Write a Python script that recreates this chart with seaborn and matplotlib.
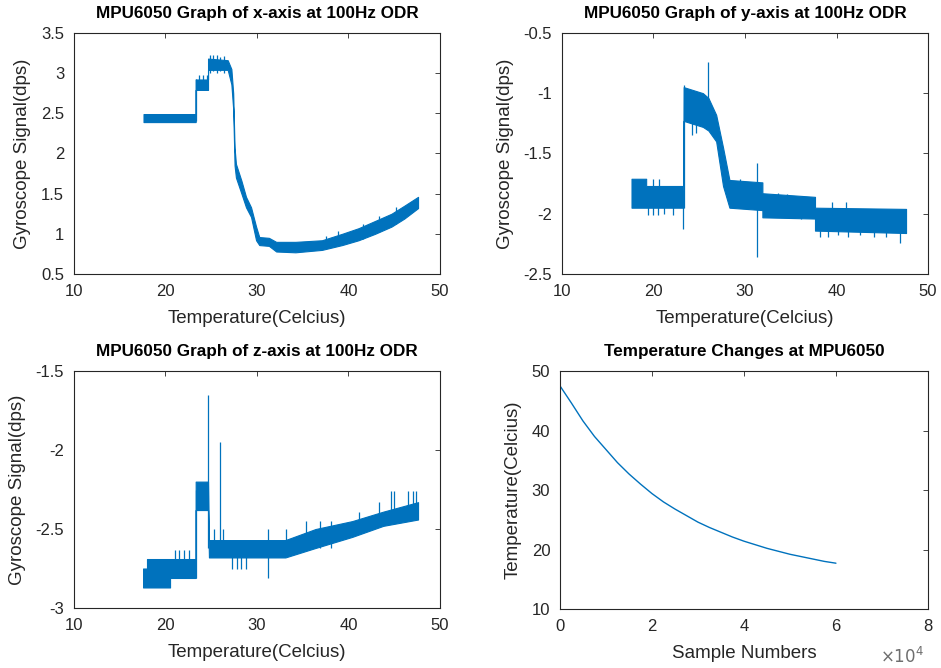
import numpy as np
import pandas as pd
import seaborn as sns
import matplotlib.pyplot as plt

# ---- data ----
# x-axis gyro: band (low / high envelope) over temperature
x_temp = [17.6, 23.3, 23.3, 24.65, 24.65, 26.8, 27.2, 27.4, 27.55, 27.7, 28.3, 28.8,
          29.35, 29.9, 30.25, 31.3, 32.1, 34.2, 37.1, 39.3, 41.1, 42.9, 44.7, 46.1, 47.6]
x_low = [2.39, 2.39, 2.79, 2.79, 3.04, 3.04, 2.86, 2.55, 1.85, 1.70, 1.50, 1.33,
         1.21, 0.92, 0.86, 0.85, 0.78, 0.77, 0.80, 0.86, 0.92, 1.00, 1.09, 1.19, 1.32]
x_high = [2.49, 2.49, 2.92, 2.92, 3.18, 3.16, 3.05, 2.75, 2.07, 1.87, 1.66, 1.46,
          1.33, 1.09, 0.96, 0.95, 0.90, 0.90, 0.92, 1.00, 1.07, 1.16, 1.25, 1.35, 1.46]
x_spike_t = [23.3, 23.7, 24.1, 24.5, 24.9, 25.2, 25.6, 26.0, 26.4, 37.5, 38.9, 41.6, 43.3, 45.2]
x_spike_lo = [2.40, 2.80, 2.80, 2.80, 3.00, 3.02, 3.00, 3.03, 3.00, 0.82, 0.86, 0.94, 1.02, 1.12]
x_spike_hi = [2.92, 2.98, 2.97, 2.98, 3.22, 3.23, 3.22, 3.20, 3.21, 0.97, 1.04, 1.12, 1.22, 1.33]

# y-axis gyro
y_temp = [17.6, 19.2, 19.2, 23.25, 23.3, 25.4, 26.0, 26.85, 27.6, 28.3, 31.9, 31.9, 37.65, 37.65, 47.6]
y_low = [-1.95, -1.95, -1.95, -1.95, -1.23, -1.28, -1.31, -1.40, -1.77, -1.95, -1.97, -2.03, -2.04, -2.14, -2.16]
y_high = [-1.71, -1.71, -1.77, -1.77, -0.95, -1.00, -1.04, -1.18, -1.45, -1.72, -1.74, -1.83, -1.86, -1.95, -1.96]
y_spike_t = [23.25, 23.3, 24.2, 24.6, 26.0, 31.3, 46.95, 19.4, 19.9, 20.5, 21.1, 22.1,
             20.0, 20.6, 29.5, 33.6, 34.6, 36.1, 38.2, 39.1, 40.2, 41.3, 42.6, 44.1, 45.4, 39.5, 41.0]
y_spike_lo = [-2.13, -1.95, -1.35, -1.33, -1.30, -2.36, -2.24, -2.01, -2.01, -2.01, -2.00, -2.01,
              -1.90, -1.90, -1.95, -2.02, -2.02, -2.04, -2.19, -2.19, -2.18, -2.19, -2.18, -2.19, -2.19, -2.10, -2.10]
y_spike_hi = [-1.80, -0.93, -1.10, -1.12, -0.74, -1.58, -2.05, -1.90, -1.90, -1.90, -1.90, -1.90,
              -1.71, -1.71, -1.71, -1.83, -1.84, -1.88, -2.05, -2.05, -2.05, -2.05, -2.05, -2.05, -2.05, -1.90, -1.90]

# z-axis gyro
z_temp = [17.55, 17.98, 17.98, 20.5, 20.5, 23.3, 23.3, 24.65, 24.75, 33.1, 36.4, 40.4, 43.8, 47.6]
z_low = [-2.87, -2.87, -2.87, -2.87, -2.81, -2.81, -2.38, -2.38, -2.68, -2.68, -2.62, -2.55, -2.48, -2.44]
z_high = [-2.75, -2.75, -2.69, -2.69, -2.69, -2.69, -2.20, -2.20, -2.57, -2.57, -2.50, -2.45, -2.39, -2.33]
z_spike_t = [23.3, 24.7, 26.0, 31.2, 21.0, 21.5, 22.0, 22.6, 27.3, 27.8, 28.3, 28.8,
             25.3, 26.3, 33.2, 35.4, 36.9, 38.1, 41.2, 43.3, 44.6, 45.0, 46.5, 47.0, 47.4]
z_spike_lo = [-2.81, -2.62, -2.62, -2.81, -2.70, -2.70, -2.70, -2.70, -2.75, -2.75, -2.75, -2.75,
              -2.62, -2.62, -2.62, -2.58, -2.62, -2.62, -2.50, -2.44, -2.40, -2.40, -2.40, -2.40, -2.40]
z_spike_hi = [-2.25, -1.65, -1.95, -2.50, -2.63, -2.63, -2.63, -2.63, -2.65, -2.65, -2.65, -2.65,
              -2.50, -2.50, -2.50, -2.45, -2.45, -2.45, -2.39, -2.33, -2.26, -2.26, -2.26, -2.26, -2.26]

# temperature over time
sample_numbers = [0, 2500, 5000, 7500, 10000, 12500, 15000, 17500, 20000, 22500, 25000, 27500,
                  30000, 32500, 35000, 37500, 40000, 42500, 45000, 47500, 50000, 52500,
                  55000, 57500, 60000]
temperature = [47.5, 44.6, 41.6, 39.0, 36.8, 34.6, 32.7, 31.0, 29.4, 28.0, 26.8, 25.7,
               24.6, 23.7, 22.9, 22.1, 21.4, 20.8, 20.2, 19.7, 19.2, 18.8,
               18.4, 18.0, 17.7]

titles = ["MPU6050 Graph of x-axis at 100Hz ODR",
          "MPU6050 Graph of y-axis at 100Hz ODR",
          "MPU6050 Graph of z-axis at 100Hz ODR",
          "Temperature Changes at MPU6050"]

blue = "#0072BD"
dark = "#262626"

sns.set_style("white")
plt.rcParams.update({
    "font.family": ["Liberation Sans", "DejaVu Sans"],
    "xtick.direction": "in", "ytick.direction": "in",
    "xtick.top": True, "ytick.right": True,
    "xtick.major.size": 3.5, "ytick.major.size": 3.5,
    "xtick.major.width": 0.6, "ytick.major.width": 0.6,
    "xtick.color": dark, "ytick.color": dark,
    "axes.edgecolor": dark, "axes.linewidth": 0.8,
})

fig = plt.figure(figsize=(9.41, 6.68), dpi=100)
ax1 = fig.add_axes([0.0786, 0.5898, 0.389, 0.361])
ax2 = fig.add_axes([0.5972, 0.5898, 0.389, 0.361])
ax3 = fig.add_axes([0.0786, 0.0898, 0.389, 0.3548])
ax4 = fig.add_axes([0.5951, 0.0883, 0.391, 0.3563])

gyro = [
    (ax1, x_temp, x_low, x_high, x_spike_t, x_spike_lo, x_spike_hi, (0.5, 3.5), np.arange(0.5, 3.51, 0.5)),
    (ax2, y_temp, y_low, y_high, y_spike_t, y_spike_lo, y_spike_hi, (-2.5, -0.5), np.arange(-2.5, -0.49, 0.5)),
    (ax3, z_temp, z_low, z_high, z_spike_t, z_spike_lo, z_spike_hi, (-3, -1.5), np.arange(-3, -1.49, 0.5)),
]

for ax, t, lo, hi, st, slo, shi, ylim, yt in gyro:
    ax.fill_between(t, lo, hi, color=blue, linewidth=0.8, edgecolor=blue)
    ax.vlines(st, slo, shi, color=blue, linewidth=0.9)
    ax.set_xlim(10, 50)
    ax.set_ylim(*ylim)
    ax.set_xticks([10, 20, 30, 40, 50])
    ax.set_yticks(yt)
    ax.set_yticklabels([f"{v:g}" for v in yt])
    ax.set_xlabel("Temperature(Celcius)", fontsize=13.5, color=dark, labelpad=8)
    ax.set_ylabel("Gyroscope Signal(dps)", fontsize=13.5, color=dark, labelpad=7)

df_temp = pd.DataFrame({"sample": sample_numbers, "temp": temperature})
sns.lineplot(data=df_temp, x="sample", y="temp", ax=ax4, color=blue, linewidth=1.0)
ax4.set_xlim(0, 80000)
ax4.set_ylim(10, 50)
ax4.set_xticks([0, 20000, 40000, 60000, 80000])
ax4.set_xticklabels(["0", "2", "4", "6", "8"])
ax4.set_yticks([10, 20, 30, 40, 50])
ax4.set_xlabel("Sample Numbers", fontsize=13.5, color=dark, labelpad=8)
ax4.set_ylabel("Temperature(Celcius)", fontsize=13.5, color=dark, labelpad=7)
ax4.text(0.99, -0.155, r"$\times10^{4}$", transform=ax4.transAxes, ha="right", va="top",
         fontsize=12, color="#6e6e6e")

for ax, title in zip([ax1, ax2, ax3, ax4], titles):
    ax.set_title(title, fontsize=12.3, fontweight="bold", color="black", pad=11)
    ax.tick_params(labelsize=12, pad=7)
    for s in ax.spines.values():
        s.set_visible(True)

fig.savefig("out.png", dpi=100, facecolor="white")
